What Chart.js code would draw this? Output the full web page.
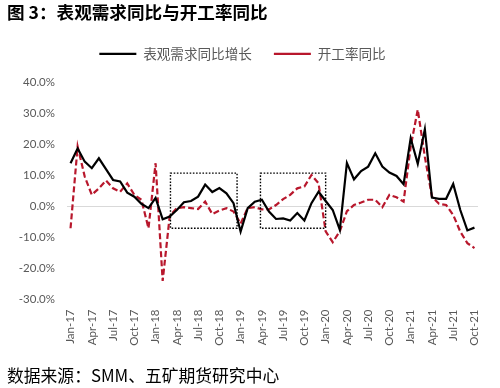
<!DOCTYPE html>
<html>
<head>
<meta charset="utf-8">
<script src="https://cdn.jsdelivr.net/npm/chart.js@4/dist/chart.umd.min.js"></script>
<style>
  html, body { margin: 0; padding: 0; background: #ffffff; }
  #wrap { width: 500px; height: 388px; position: relative; }
</style>
</head>
<body>
<div id="wrap"><canvas id="c" width="500" height="388"></canvas></div>
<script>
// ---- data ----
const months = ['Jan-17','Feb-17','Mar-17','Apr-17','May-17','Jun-17','Jul-17','Aug-17','Sep-17','Oct-17','Nov-17','Dec-17',
  'Jan-18','Feb-18','Mar-18','Apr-18','May-18','Jun-18','Jul-18','Aug-18','Sep-18','Oct-18','Nov-18','Dec-18',
  'Jan-19','Feb-19','Mar-19','Apr-19','May-19','Jun-19','Jul-19','Aug-19','Sep-19','Oct-19','Nov-19','Dec-19',
  'Jan-20','Feb-20','Mar-20','Apr-20','May-20','Jun-20','Jul-20','Aug-20','Sep-20','Oct-20','Nov-20','Dec-20',
  'Jan-21','Feb-21','Mar-21','Apr-21','May-21','Jun-21','Jul-21','Aug-21','Sep-21','Oct-21'];

const demandYoY = [14.0, 18.8, 14.5, 12.4, 15.6, 12.1, 8.6, 8.1, 4.5, 3.2, 0.9, -0.5,
  2.8, -4.1, -3.2, -1.1, 1.4, 1.8, 3.2, 7.1, 4.7, 6.0, 4.3, 1.1,
  -8.1, -0.5, 1.6, 2.2, -1.6, -4.0, -3.8, -4.5, -2.1, -4.5, 1.1, 4.8,
  1.8, -1.1, -7.5, 14.1, 8.8, 11.5, 12.9, 17.2, 12.9, 11.0, 9.9, 7.2,
  22.1, 13.8, 25.0, 2.9, 2.5, 2.5, 7.3, -1.1, -7.7, -6.8];

const utilYoY = [-7.0, 19.4, 9.7, 3.8, 5.9, 8.4, 5.9, 4.8, 7.5, 3.8, 2.2, -7.0,
  14.0, -24.0, -3.0, -0.5, -0.2, -0.5, -0.8, 1.6, -2.4, -1.3, -0.5, -1.6,
  -5.5, -0.5, -0.2, -0.9, -0.9, 0.5, 2.4, 3.8, 5.9, 6.5, 10.2, 7.5,
  -8.0, -11.5, -8.0, -1.5, 0.5, 1.3, 2.2, 2.2, -0.2, 3.8, 3.0, 1.6,
  19.4, 31.3, 16.1, 3.2, 0.9, 0.5, -2.7, -8.1, -11.8, -13.4];

const seriesNames = ['表观需求同比增长', '开工率同比'];
const titleText = '图 3：表观需求同比与开工率同比';
const sourceText = '数据来源：SMM、五矿期货研究中心';

// highlighted regions (category index range, value range)
const boxStart = [14.1, 26.8];
const boxEnd = [23.5, 36.0];
const boxTop = [10.8, 10.8];
const boxBottom = [-7.0, -7.0];

const CJK = '"Noto Sans CJK SC", "Noto Sans", sans-serif';
const TICK = 'Lato, "Liberation Sans", sans-serif';

const boxesPlugin = {
  id: 'dottedBoxes',
  afterDatasetsDraw(chart) {
    const ctx = chart.ctx, x = chart.scales.x, y = chart.scales.y;
    ctx.save();
    ctx.strokeStyle = '#000000';
    ctx.lineWidth = 1.4;
    ctx.setLineDash([1.6, 1.6]);
    for (let i = 0; i < boxStart.length; i++) {
      const x1 = x.getPixelForValue(boxStart[i]);
      const x2 = x.getPixelForValue(boxEnd[i]);
      const y1 = y.getPixelForValue(boxTop[i]);
      const y2 = y.getPixelForValue(boxBottom[i]);
      ctx.strokeRect(x1, y1, x2 - x1, y2 - y1);
    }
    ctx.restore();
  }
};

const legendSpacer = {
  id: 'legendSpacer',
  beforeLayout(chart) {
    const lg = chart.legend;
    if (lg && !lg._patched) {
      const orig = lg.fit;
      lg.fit = function () { orig.call(this); this.height += 12; };
      lg._patched = true;
    }
  }
};

const whiteBg = {
  id: 'whiteBg',
  beforeDraw(chart) {
    const ctx = chart.ctx;
    ctx.save();
    ctx.fillStyle = '#ffffff';
    ctx.fillRect(0, 0, chart.width, chart.height);
    ctx.restore();
  }
};

new Chart(document.getElementById('c'), {
  type: 'line',
  data: {
    labels: months,
    datasets: [
      {
        label: seriesNames[0],
        data: demandYoY,
        borderColor: '#000000',
        backgroundColor: '#000000',
        borderWidth: 2.2,
        pointRadius: 0,
        tension: 0,
        fill: false
      },
      {
        label: seriesNames[1],
        data: utilYoY,
        borderColor: '#B8172C',
        backgroundColor: '#B8172C',
        borderWidth: 2.2,
        borderDash: [6, 3],
        pointRadius: 0,
        tension: 0,
        fill: false
      }
    ]
  },
  options: {
    responsive: false,
    devicePixelRatio: 1,
    animation: false,
    layout: { padding: { left: 7, right: 22, top: 0, bottom: 0 } },
    plugins: {
      title: {
        display: true,
        text: titleText,
        align: 'start',
        color: '#000000',
        font: { family: CJK, size: 17.6, weight: 'bold' },
        padding: { top: 2, bottom: 2 }
      },
      subtitle: {
        display: true,
        position: 'bottom',
        text: sourceText,
        align: 'start',
        color: '#000000',
        font: { family: CJK, size: 16.8, weight: 'normal' },
        padding: { top: 10, bottom: 2 }
      },
      legend: {
        display: true,
        position: 'top',
        labels: {
          usePointStyle: true,
          pointStyle: 'line',
          pointStyleWidth: 37,
          boxHeight: 13,
          padding: 22,
          color: '#595959',
          font: { family: CJK, size: 13.6 }
        }
      },
      tooltip: { enabled: false }
    },
    scales: {
      x: {
        type: 'category',
        offset: true,
        grid: { display: false, drawTicks: false },
        border: { display: false },
        ticks: {
          autoSkip: false,
          minRotation: 90,
          maxRotation: 90,
          padding: 10,
          color: '#595959',
          font: { family: TICK, size: 11.5 },
          callback: function (val, idx) { return idx % 3 === 0 ? months[idx] : ''; }
        }
      },
      y: {
        min: -30,
        max: 40,
        afterFit(scale) { scale.width = 60; },
        grid: {
          drawTicks: false,
          color: (c) => (c.tick && c.tick.value === 0 ? '#d9d9d9' : 'rgba(0,0,0,0)'),
          lineWidth: 1
        },
        border: { display: false },
        ticks: {
          stepSize: 10,
          padding: 12,
          color: '#595959',
          font: { family: TICK, size: 11.5 },
          callback: (v) => v.toFixed(1) + '%'
        }
      }
    }
  },
  plugins: [whiteBg, legendSpacer, boxesPlugin]
});
</script>
</body>
</html>
